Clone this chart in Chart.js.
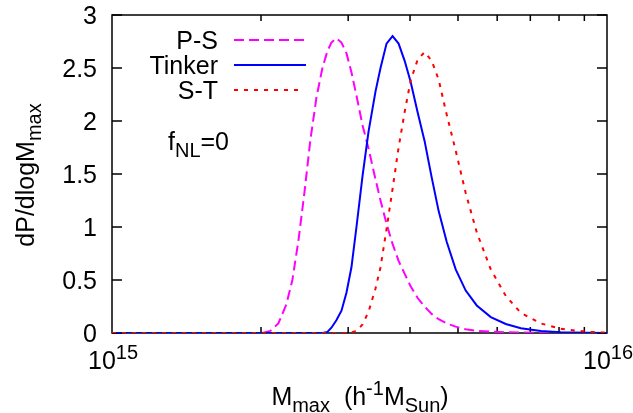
<!DOCTYPE html>
<html>
<head>
<meta charset="utf-8">
<title>dP/dlogMmax</title>
<script src="https://cdn.jsdelivr.net/npm/chart.js@4.4.0/dist/chart.umd.min.js"></script>
<style>
	body { margin: 0; background: #fff; }
</style>
</head>
<body>
	<canvas id="grafico" width="633" height="413"></canvas>

	<script type="text/javascript">

	// masa en unidades de 1e15 h^-1 Msun
	var masas = [1.000, 1.903, 2.012, 2.088, 2.168, 2.250, 2.314, 2.380, 2.447, 2.516, 2.588, 2.661, 2.724, 2.775, 2.840,
		2.908, 2.976, 3.046, 3.118, 3.207, 3.298, 3.407, 3.487, 3.586, 3.688, 3.793, 3.900, 4.011, 4.145, 4.281,
		4.423, 4.570, 4.744, 4.947, 5.183, 5.456, 5.824, 6.245, 6.698, 7.352, 8.070, 9.068, 10.00];

	var ps = [0, 0, 0, 0.02, 0.09, 0.27, 0.50, 0.87, 1.32, 1.82, 2.22, 2.50, 2.66, 2.74, 2.78,
		2.74, 2.64, 2.46, 2.24, 1.96, 1.74, 1.45, 1.25, 1.03, 0.84, 0.68, 0.56, 0.44, 0.33, 0.25,
		0.18, 0.13, 0.09, 0.06, 0.035, 0.02, 0.012, 0.007, 0.004, 0.002, 0.001, 0, 0];

	var tinker = [0, 0, 0, 0, 0, 0, 0, 0, 0, 0, 0, 0, 0.01, 0.05, 0.12,
		0.21, 0.38, 0.62, 1.00, 1.48, 1.90, 2.28, 2.50, 2.73, 2.80, 2.73, 2.57, 2.37, 2.08, 1.81,
		1.47, 1.15, 0.86, 0.60, 0.40, 0.26, 0.15, 0.085, 0.045, 0.02, 0.008, 0.003, 0.001];

	var st = [0, 0, 0, 0, 0, 0, 0, 0, 0, 0, 0, 0, 0, 0, 0,
		0, 0, 0.005, 0.02, 0.08, 0.20, 0.42, 0.62, 0.98, 1.36, 1.75, 2.08, 2.38, 2.58, 2.65,
		2.57, 2.39, 2.06, 1.72, 1.32, 0.95, 0.60, 0.35, 0.19, 0.09, 0.04, 0.012, 0.003];

	var nombres = ["P-S", "Tinker", "S-T"];
	var ticksY = [0, 0.5, 1, 1.5, 2, 2.5, 3];
	var ticksXMayor = [1e15, 1e16];
	var etiquetasX = [["10", "15"], ["10", "16"]];
	var ticksXMenor = [2e15, 3e15, 4e15, 5e15, 6e15, 7e15, 8e15, 9e15];

	var FUENTE = '"Liberation Sans", Arial, sans-serif';
	var TAM = 25, TAM_IND = 20;

	function puntos(valores) {
		return masas.map(function(m, i) { return { x: m * 1e15, y: valores[i] }; });
	}

	// texto con subindices (1) y superindices (2)
	function textoRico(ctx, partes, x, y, align) {
		var total = 0;
		partes.forEach(function(p) {
			ctx.font = (p[1] ? TAM_IND : TAM) + 'px ' + FUENTE;
			total += ctx.measureText(p[0]).width;
		});
		var cx = x;
		if (align == 'center') cx = x - total / 2;
		if (align == 'right') cx = x - total;
		ctx.textAlign = 'left';
		ctx.textBaseline = 'alphabetic';
		partes.forEach(function(p) {
			ctx.font = (p[1] ? TAM_IND : TAM) + 'px ' + FUENTE;
			var dy = p[1] == 1 ? 7 : (p[1] == 2 ? -10 : 0);
			ctx.fillText(p[0], cx, y + dy);
			cx += ctx.measureText(p[0]).width;
		});
	}

	var marco = {
		id: 'marco',
		beforeDatasetsDraw: function(chart) {
			var ctx = chart.ctx;
			var a = chart.chartArea;
			var sx = chart.scales.x, sy = chart.scales.y;
			ctx.save();
			ctx.strokeStyle = '#000';
			ctx.lineWidth = 1.5;
			ctx.strokeRect(a.left, a.top, a.right - a.left, a.bottom - a.top);
			ctx.beginPath();
			ticksY.forEach(function(v) {
				var py = sy.getPixelForValue(v);
				ctx.moveTo(a.left, py); ctx.lineTo(a.left + 10, py);
				ctx.moveTo(a.right, py); ctx.lineTo(a.right - 10, py);
			});
			ticksXMenor.forEach(function(v) {
				var px = sx.getPixelForValue(v);
				ctx.moveTo(px, a.bottom); ctx.lineTo(px, a.bottom - 6);
				ctx.moveTo(px, a.top); ctx.lineTo(px, a.top + 6);
			});
			ctx.stroke();

			ctx.fillStyle = '#000';
			ctx.font = TAM + 'px ' + FUENTE;
			ctx.textAlign = 'right';
			ctx.textBaseline = 'alphabetic';
			ticksY.forEach(function(v) {
				ctx.fillText(String(v), a.left - 15, sy.getPixelForValue(v) + 9);
			});
			ticksXMayor.forEach(function(v, i) {
				textoRico(ctx, [[etiquetasX[i][0], 0], [etiquetasX[i][1], 2]], sx.getPixelForValue(v) + 1, 369, 'center');
			});

			textoRico(ctx, [["M", 0], ["max", 1], ["  (h", 0], ["-1", 2], ["M", 0], ["Sun", 1], [")", 0]], 360, 405, 'center');

			ctx.save();
			ctx.translate(34, 175);
			ctx.rotate(-Math.PI / 2);
			textoRico(ctx, [["dP/dlogM", 0], ["max", 1]], 0, 0, 'center');
			ctx.restore();

			// leyenda
			var estilos = [['#ff00ff', [10, 5], 306], ['#0000ff', [], 306], ['#ff0000', [4, 6], 302]];
			nombres.forEach(function(n, i) {
				var ly = 40 + i * 25;
				ctx.fillStyle = '#000';
				ctx.font = TAM + 'px ' + FUENTE;
				ctx.textAlign = 'right';
				ctx.fillText(n, 218, ly + 9);
				ctx.strokeStyle = estilos[i][0];
				ctx.lineWidth = 2;
				ctx.setLineDash(estilos[i][1]);
				ctx.beginPath();
				ctx.moveTo(234, ly);
				ctx.lineTo(estilos[i][2], ly);
				ctx.stroke();
			});
			ctx.setLineDash([]);

			ctx.fillStyle = '#000';
			textoRico(ctx, [["f", 0], ["NL", 1], ["=0", 0]], 168, 150, 'left');
			ctx.restore();
		}
	};

	var ctx = document.getElementById('grafico').getContext('2d');
	var grafico = new Chart(ctx, {
		type: 'line',
		data: {
			datasets: [
				{ label: nombres[0], data: puntos(ps), borderColor: '#ff00ff', borderWidth: 2, borderDash: [10, 5], order: 2 },
				{ label: nombres[1], data: puntos(tinker), borderColor: '#0000ff', borderWidth: 2, order: 1 },
				{ label: nombres[2], data: puntos(st), borderColor: '#ff0000', borderWidth: 2, borderDash: [4, 6], order: 0 }
			]
		},
		options: {
			responsive: false,
			animation: false,
			devicePixelRatio: 1,
			layout: { padding: { left: 112, right: 26, top: 15, bottom: 80 } },
			elements: { point: { radius: 0 }, line: { tension: 0, fill: false } },
			plugins: { legend: { display: false }, tooltip: { enabled: false } },
			scales: {
				x: { type: 'logarithmic', min: 1e15, max: 1e16, display: false },
				y: { type: 'linear', min: 0, max: 3, display: false }
			}
		},
		plugins: [marco]
	});

	</script>
</body>
</html>
